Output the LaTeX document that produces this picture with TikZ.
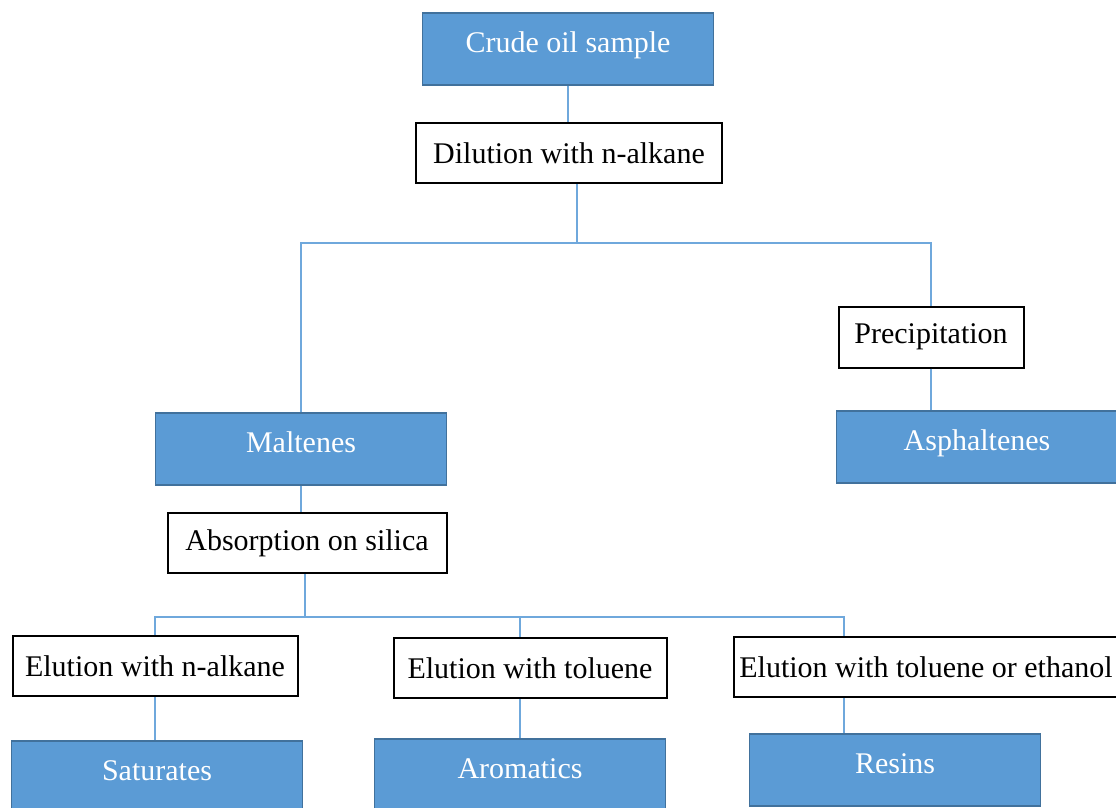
\documentclass[tikz,border=0pt]{standalone}
\usepackage{fontspec}
\setmainfont{Liberation Serif}
\usetikzlibrary{positioning}
\definecolor{azulCaja}{HTML}{5B9BD5}
\definecolor{azulBorde}{HTML}{41719C}
\definecolor{azulLinea}{HTML}{6FA8DC}
\colorlet{colTexto}{black}
\tikzset{
  boxBase/.style={
    rectangle, inner sep=2pt, align=center,
    font=\fontsize{30}{35}\selectfont
  },
  boxFraction/.style={boxBase, draw=azulBorde, line width=1.2pt,
    fill=azulCaja, text=white, minimum height=72pt,
    text height=21pt, text depth=14pt},
  boxStep/.style={boxBase, draw=black, line width=2pt,
    fill=white, text=colTexto, minimum height=60pt},
  link/.style={azulLinea, line width=1.5pt},
}
\begin{document}
\begin{tikzpicture}[x=1pt, y=1pt]
  \useasboundingbox[fill=white] (0,0) rectangle (1116,-807);

  % top of the scheme
  \node[boxFraction, minimum width=291pt] (crude) at (568,-49) {Crude oil sample};
  \node[boxStep, minimum width=306pt] (dilution) at (569,-153) {Dilution with n-alkane};
  \coordinate (hub1) at (577,-243);

  % first split
  \node[boxFraction, minimum width=291pt] (malt) at (301,-449) {Maltenes};
  \node[boxStep, minimum width=185pt, minimum height=61pt] (precip) at (931,-337) {Precipitation};
  \node[boxFraction, minimum width=281pt] (asph) at (977,-447) {Asphaltenes};

  % second split
  \node[boxStep, minimum width=279pt] (absorb) at (307,-543) {Absorption on silica};
  \coordinate (hub2) at (305,-617);
  \coordinate (drop3) at (844,-617);

  \node[boxStep, minimum width=285pt] (eluA) at (155,-666) {Elution with n-alkane};
  \node[boxStep, minimum width=273pt] (eluT) at (530,-668) {Elution with toluene};
  \node[boxStep, minimum width=385pt] (eluE) at (926,-667) {Elution with toluene or ethanol};

  \node[boxFraction, minimum width=291pt] (sat) at (157,-777) {Saturates};
  \node[boxFraction, minimum width=291pt] (arom) at (520,-775) {Aromatics};
  \node[boxFraction, minimum width=291pt] (resins) at (895,-770) {Resins};

  % connectors
  \draw[link] (crude.south) -- (crude.south |- dilution.north);
  \draw[link] (dilution.south -| hub1) -- (hub1);
  \draw[link] (malt.north) |- (hub1) -| (precip.north);
  \draw[link] (precip.south) -- (precip.south |- asph.north);
  \draw[link] (malt.south) -- (malt.south |- absorb.north);
  \draw[link] (absorb.south -| hub2) -- (hub2);
  \draw[link] (eluA.north) |- (drop3) -- (drop3 |- eluE.north);
  \draw[link] (hub2 -| arom) -- (arom |- eluT.north);
  \draw[link] (eluA.south) -- (eluA.south |- sat.north);
  \draw[link] (arom |- eluT.south) -- (arom.north);
  \draw[link] (drop3 |- eluE.south) -- (drop3 |- resins.north);
\end{tikzpicture}
\end{document}
